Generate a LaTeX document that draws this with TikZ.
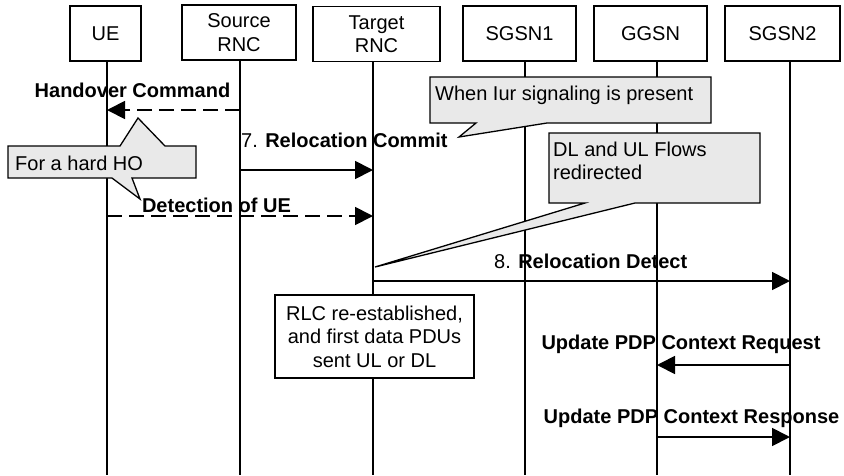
\documentclass[tikz,border=0pt]{standalone}
\usepackage{fontspec}
\setmainfont{Liberation Sans}
\usetikzlibrary{arrows.meta}
\begin{document}
\begin{tikzpicture}[x=1pt,y=-1pt,
  font=\fontsize{20}{23.5}\selectfont,
  hdr/.style={draw, line width=1.8pt, minimum height=55pt, inner sep=0pt, align=center, fill=white},
  life/.style={line width=1.8pt},
  msg/.style={line width=1.8pt, -{Triangle[length=18pt,width=18pt]}},
  dmsg/.style={msg, dash pattern=on 15pt off 7pt},
  lbl/.style={anchor=base, inner sep=0pt, font=\fontsize{20}{23.5}\selectfont\bfseries},
  callout/.style={draw, line width=1.3pt, fill=gray!17, line join=miter},
  note/.style={anchor=base west, inner sep=0pt, align=left},
  plainbox/.style={draw, line width=1.8pt, fill=white, align=center, inner sep=0pt}
]
\useasboundingbox (0,0) rectangle (844,475);

% header boxes
\node[hdr, minimum width=71pt]  (ue)  at (105.5,33.5) {UE};
\node[hdr, minimum width=114pt] (src) at (239,32.5)   {Source\\RNC};
\node[hdr, minimum width=127pt] (tgt) at (376.5,34) {Target\\RNC};
\node[hdr, minimum width=113pt] (sg1) at (519.5,33.5) {SGSN1};
\node[hdr, minimum width=113pt] (gg)  at (650.5,33.5) {GGSN};
\node[hdr, minimum width=115pt] (sg2) at (782.5,33.5) {SGSN2};

% lifelines
\foreach \n/\x in {ue/107,src/240,tgt/373,sg1/525,gg/657,sg2/790} {
  \coordinate (\n-l) at (\x,61);
  \coordinate (\n-b) at (\x,475);
  \draw[life] (\n-l) -- (\n-b);
}

% callouts
\draw[callout] (8,146) -- (120,146) -- (138,118) -- (165,146) -- (196,146) -- (196,178)
  -- (132,178) -- (140,199) -- (112,178) -- (8,178) -- cycle;
\node[note] (n1) at (15,170) {For a hard HO};

\draw[callout] (430,77) -- (711,77) -- (711,123) -- (547,123) -- (459,137) -- (476,123)
  -- (430,123) -- cycle;
\node[note] (n2) at (435,100) {When Iur signaling is present};

\draw[callout] (549,133) -- (760,133) -- (760,203) -- (635,203) -- (375,267) -- (585,203)
  -- (549,203) -- cycle;
\node[anchor=west, inner sep=0pt, align=left] (n3) at (553,161) {DL and UL Flows\\redirected};

% RLC box
\node[plainbox, minimum width=199pt, minimum height=83pt] (rlc) at (374.5,336.5)
  {RLC re-established,\\and first data PDUs\\sent UL or DL};

% messages
\draw[dmsg] (src-l |- 0,110) -- (ue-l |- 0,110);
\node[lbl] (m1) at (132.5,97) {Handover Command};

\draw[msg] (src-l |- 0,170) -- (tgt-l |- 0,170);
\node[lbl, anchor=base west] (m2) at (241,147) {\mdseries 7. \bfseries Relocation Commit};

\draw[dmsg] (ue-l |- 0,216) -- (tgt-l |- 0,216);
\node[lbl] (m3) at (216.5,212) {Detection of UE};

\draw[msg] (tgt-l |- 0,281) -- (sg2-l |- 0,281);
\node[lbl, anchor=base west] (m4) at (494,268) {\mdseries 8. \bfseries Relocation Detect};

\draw[msg] (sg2-l |- 0,365) -- (gg-l |- 0,365);
\node[lbl] (m5) at (681,349) {Update PDP Context Request};

\draw[msg] (gg-l |- 0,437) -- (sg2-l |- 0,437);
\node[lbl] (m6) at (691.5,423) {Update PDP Context Response};
\end{tikzpicture}
\end{document}
